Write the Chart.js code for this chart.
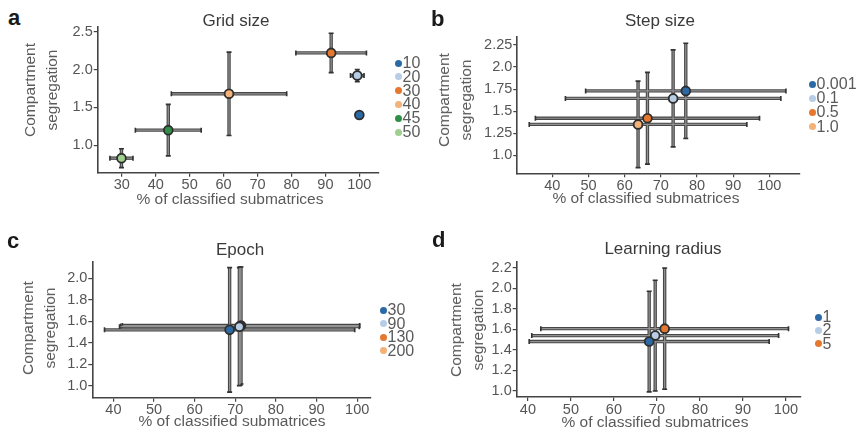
<!DOCTYPE html>
<html>
<head>
<meta charset="utf-8">
<script src="https://cdn.jsdelivr.net/npm/chart.js@4.4.1/dist/chart.umd.min.js"></script>
<style>
  html, body { margin: 0; padding: 0; background: #fff; }
  body { position: relative; width: 863px; height: 436px; overflow: hidden;
         font-family: "Liberation Sans", Arial, sans-serif; }
  canvas { position: absolute; }
  .letter { position: absolute; font-weight: bold; font-size: 22px; line-height: 22px; color: #1a1a1a; }
  .ptitle { position: absolute; font-size: 17px; line-height: 20px; color: #3a3a3a;
            white-space: nowrap; transform: translateX(-50%); }
  .xtitle { position: absolute; font-size: 15.5px; line-height: 18px; color: #5a5a5a;
            white-space: nowrap; transform: translateX(-50%); }
  .ytitle { position: absolute; font-size: 15.5px; line-height: 22px; color: #5a5a5a;
            white-space: nowrap; text-align: center; transform: translate(-50%, -50%) rotate(-90deg); }
  .legend { position: absolute; font-size: 16px; color: #5a5a5a; }
  .legend .row { position: absolute; white-space: nowrap; }
  .legend .dot { position: absolute; width: 7px; height: 7px; border-radius: 50%; left: -3.5px; top: -3.5px; }
  .legend .lab { position: absolute; left: 4.5px; top: -9px; line-height: 18px; }
</style>
</head>
<body>
<script>
// ---- a: grid size ----
const gridLabels = ['10', '20', '30', '40', '45', '50'];
const gridX      = [100, 99.4, 91.7, 61.6, 43.7, 29.9];
const gridY      = [1.40, 1.92, 2.22, 1.68, 1.20, 0.83];
const gridXErr   = [0, 2.0, 10.4, 17.0, 9.7, 3.4];
const gridYErr   = [0, 0.08, 0.26, 0.55, 0.34, 0.125];
const gridColors = ['#2c6aa6', '#b7cde6', '#e5772f', '#f3b27a', '#2f8f46', '#9fd08f'];
const gridXTicks = [30, 40, 50, 60, 70, 80, 90, 100];
const gridYTicks = [1.0, 1.5, 2.0, 2.5];
const gridYTickLabels = ['1.0', '1.5', '2.0', '2.5'];

// ---- b: step size ----
const stepLabels = ['0.001', '0.1', '0.5', '1.0'];
const stepX      = [76.9, 73.4, 66.3, 63.7];
const stepY      = [1.73, 1.645, 1.42, 1.35];
const stepXErr   = [27.7, 29.8, 31.0, 30.1];
const stepYErr   = [0.54, 0.55, 0.52, 0.49];
const stepColors = ['#2c6aa6', '#b7cde6', '#e5772f', '#f3b27a'];
const stepXTicks = [40, 50, 60, 70, 80, 90, 100];
const stepYTicks = [1.0, 1.25, 1.5, 1.75, 2.0, 2.25];
const stepYTickLabels = ['1.0', '1.25', '1.5', '1.75', '2.0', '2.25'];

// ---- c: epoch ----
const epochLabels = ['30', '90', '130', '200'];
const epochX      = [68.6, 71.0, 71.2, 71.4];
const epochY      = [1.52, 1.55, 1.555, 1.56];
const epochXErr   = [30.8, 29.5, 29.4, 29.2];
const epochYErr   = [0.58, 0.55, 0.55, 0.545];
const epochColors = ['#2c6aa6', '#b7cde6', '#e5772f', '#f3b27a'];
const epochXTicks = [40, 50, 60, 70, 80, 90, 100];
const epochYTicks = [1.0, 1.2, 1.4, 1.6, 1.8, 2.0];
const epochYTickLabels = ['1.0', '1.2', '1.4', '1.6', '1.8', '2.0'];

// ---- d: learning radius ----
const radiusLabels = ['1', '2', '5'];
const radiusX      = [68.2, 69.6, 71.8];
const radiusY      = [1.48, 1.538, 1.606];
const radiusXErr   = [27.9, 28.7, 28.8];
const radiusYErr   = [0.49, 0.54, 0.59];
const radiusColors = ['#2c6aa6', '#b7cde6', '#e5772f'];
const radiusXTicks = [40, 50, 60, 70, 80, 90, 100];
const radiusYTicks = [1.0, 1.2, 1.4, 1.6, 1.8, 2.0, 2.2];
const radiusYTickLabels = ['1.0', '1.2', '1.4', '1.6', '1.8', '2.0', '2.2'];

const X_TITLE = '% of classified submatrices';
const Y_TITLE = ['Compartment', 'segregation'];

// Panel layout: plot box in page pixels, axis ranges, text anchors.
const panels = [
  { letter: 'a', title: 'Grid size', labels: gridLabels, xs: gridX, ys: gridY, xErr: gridXErr, yErr: gridYErr,
    colors: gridColors, xTicks: gridXTicks, yTicks: gridYTicks, yTickLabels: gridYTickLabels,
    box: { l: 97.7, r: 379, t: 26.7, b: 172.7 }, xr: [22.9, 105.8], yr: [0.638, 2.566],
    letterPos: [8, 6.5], titlePos: [236, 11], xTitlePos: [230, 190], yTitlePos: [41, 90],
    legend: { x: 398, y: 63, step: 13.8 } },
  { letter: 'b', title: 'Step size', labels: stepLabels, xs: stepX, ys: stepY, xErr: stepXErr, yErr: stepYErr,
    colors: stepColors, xTicks: stepXTicks, yTicks: stepYTicks, yTickLabels: stepYTickLabels,
    box: { l: 517.3, r: 799.3, t: 36.7, b: 173.3 }, xr: [30.3, 108.3], yr: [0.796, 2.344],
    letterPos: [431, 8], titlePos: [660, 11], xTitlePos: [646, 189], yTitlePos: [455, 100],
    legend: { x: 812, y: 84, step: 14.2 } },
  { letter: 'c', title: 'Epoch', labels: epochLabels, xs: epochX, ys: epochY, xErr: epochXErr, yErr: epochYErr,
    colors: epochColors, xTicks: epochXTicks, yTicks: epochYTicks, yTickLabels: epochYTickLabels,
    box: { l: 92.3, r: 371, t: 261.7, b: 397.7 }, xr: [34.8, 103.4], yr: [0.888, 2.155],
    letterPos: [7, 229.5], titlePos: [240, 239.5], xTitlePos: [232, 412], yTitlePos: [39.3, 328],
    legend: { x: 383, y: 310, step: 13.5 } },
  { letter: 'd', title: 'Learning radius', labels: radiusLabels, xs: radiusX, ys: radiusY, xErr: radiusXErr, yErr: radiusYErr,
    colors: radiusColors, xTicks: radiusXTicks, yTicks: radiusYTicks, yTickLabels: radiusYTickLabels,
    box: { l: 516.7, r: 801, t: 261.7, b: 397 }, xr: [37.4, 103.5], yr: [0.94, 2.258],
    letterPos: [432, 228.5], titlePos: [663, 239], xTitlePos: [655, 413], yTitlePos: [467.3, 330],
    legend: { x: 818, y: 317, step: 13.3 } }
];

// Horizontal and vertical error bars, painted underneath the points.
const errorBars = {
  id: 'errorBars',
  beforeDatasetsDraw(chart) {
    const { ctx } = chart;
    const xs = chart.scales.x, ys = chart.scales.y;
    const segs = [];
    chart.data.datasets.forEach(ds => {
      ds.data.forEach(p => {
        const cx = xs.getPixelForValue(p.x), cy = ys.getPixelForValue(p.y);
        if (p.xErr) segs.push({ h: true, a: xs.getPixelForValue(p.x - p.xErr), b: xs.getPixelForValue(p.x + p.xErr), c: cy });
        if (p.yErr) segs.push({ h: false, a: ys.getPixelForValue(p.y - p.yErr), b: ys.getPixelForValue(p.y + p.yErr), c: cx });
      });
    });
    ctx.save();
    ctx.lineCap = 'butt';
    const path = (s, inset) => {
      ctx.beginPath();
      if (s.h) { ctx.moveTo(s.a + inset, s.c); ctx.lineTo(s.b - inset, s.c); }
      else { ctx.moveTo(s.c, s.a - inset); ctx.lineTo(s.c, s.b + inset); }
    };
    // dark outer stroke with end caps
    segs.forEach(s => {
      ctx.strokeStyle = '#474747'; ctx.lineWidth = 3.4;
      path(s, 0); ctx.stroke();
      ctx.lineWidth = 1.6; ctx.strokeStyle = '#333';
      ctx.beginPath();
      if (s.h) {
        ctx.moveTo(s.a, s.c - 2.5); ctx.lineTo(s.a, s.c + 2.5);
        ctx.moveTo(s.b, s.c - 2.5); ctx.lineTo(s.b, s.c + 2.5);
      } else {
        ctx.moveTo(s.c - 2.5, s.a); ctx.lineTo(s.c + 2.5, s.a);
        ctx.moveTo(s.c - 2.5, s.b); ctx.lineTo(s.c + 2.5, s.b);
      }
      ctx.stroke();
    });
    // lighter core
    segs.forEach(s => {
      ctx.strokeStyle = '#939393'; ctx.lineWidth = 1.2;
      path(s, 1); ctx.stroke();
    });
    ctx.restore();
  }
};

const TICK_FONT = { family: '"Liberation Sans", Arial, sans-serif', size: 14.5 };
const TICK_COLOR = '#555';
const AXIS_COLOR = '#444';

function addText(cls, text, left, top) {
  const d = document.createElement('div');
  d.className = cls;
  d.textContent = text;
  d.style.left = left + 'px';
  d.style.top = top + 'px';
  document.body.appendChild(d);
  return d;
}

panels.forEach(P => {
  const { box } = P;
  const left = Math.floor(box.l - 62);
  const top = Math.floor(box.t - 14);
  const width = Math.ceil(box.r + 24) - left;
  const height = Math.ceil(box.b + 26) - top;

  const cv = document.createElement('canvas');
  cv.width = width; cv.height = height;
  cv.style.left = left + 'px'; cv.style.top = top + 'px';
  cv.style.width = width + 'px'; cv.style.height = height + 'px';
  document.body.appendChild(cv);

  const yW = box.l - left;
  const xH = top + height - box.b;

  const datasets = P.labels.map((lab, i) => ({
    label: lab,
    data: [{ x: P.xs[i], y: P.ys[i], xErr: P.xErr[i], yErr: P.yErr[i] }],
    backgroundColor: P.colors[i],
    borderColor: '#2e2e2e',
    borderWidth: 1.8,
    pointRadius: 4.4,
    pointHoverRadius: 4.4
  }));

  new Chart(cv, {
    type: 'scatter',
    data: { datasets },
    options: {
      responsive: false,
      animation: false,
      devicePixelRatio: 1,
      layout: { padding: { left: 0, top: box.t - top, right: left + width - box.r, bottom: 0 } },
      plugins: { legend: { display: false }, tooltip: { enabled: false }, title: { display: false } },
      scales: {
        x: {
          type: 'linear', min: P.xr[0], max: P.xr[1],
          afterBuildTicks: s => { s.ticks = P.xTicks.map(v => ({ value: v })); },
          afterFit: s => { s.height = xH; },
          ticks: { font: TICK_FONT, color: TICK_COLOR, padding: 0, autoSkip: false, maxRotation: 0,
                   callback: (v, i) => String(P.xTicks[i]) },
          grid: { drawOnChartArea: false, drawTicks: true, tickLength: 4, color: AXIS_COLOR, lineWidth: 1.2 },
          border: { display: true, color: AXIS_COLOR, width: 1.6 }
        },
        y: {
          type: 'linear', min: P.yr[0], max: P.yr[1],
          afterBuildTicks: s => { s.ticks = P.yTicks.map(v => ({ value: v })); },
          afterFit: s => { s.width = yW; },
          ticks: { font: TICK_FONT, color: TICK_COLOR, padding: 1, autoSkip: false,
                   callback: (v, i) => P.yTickLabels[i] },
          grid: { drawOnChartArea: false, drawTicks: true, tickLength: 4, color: AXIS_COLOR, lineWidth: 1.2 },
          border: { display: true, color: AXIS_COLOR, width: 1.6 }
        }
      }
    },
    plugins: [errorBars]
  });

  addText('letter', P.letter, P.letterPos[0], P.letterPos[1]);
  addText('ptitle', P.title, P.titlePos[0], P.titlePos[1]);
  addText('xtitle', X_TITLE, P.xTitlePos[0], P.xTitlePos[1]);
  const yt = document.createElement('div');
  yt.className = 'ytitle';
  yt.innerHTML = Y_TITLE.join('<br>');
  yt.style.left = P.yTitlePos[0] + 'px';
  yt.style.top = P.yTitlePos[1] + 'px';
  document.body.appendChild(yt);

  const lg = document.createElement('div');
  lg.className = 'legend';
  lg.style.left = P.legend.x + 'px';
  lg.style.top = P.legend.y + 'px';
  P.labels.forEach((lab, i) => {
    const row = document.createElement('div');
    row.className = 'row';
    row.style.top = (i * P.legend.step) + 'px';
    const dot = document.createElement('span');
    dot.className = 'dot';
    dot.style.background = P.colors[i];
    const t = document.createElement('span');
    t.className = 'lab';
    t.textContent = lab;
    row.appendChild(dot);
    row.appendChild(t);
    lg.appendChild(row);
  });
  document.body.appendChild(lg);
});
</script>
</body>
</html>
